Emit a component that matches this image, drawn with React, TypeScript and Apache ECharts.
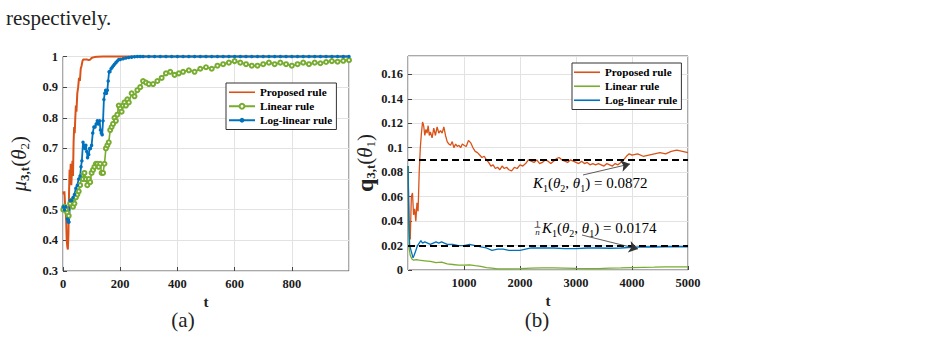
import React, { useEffect, useRef } from "react";
import * as echarts from "echarts";

// ---------- (a) mu_{3,t}(theta_2) ----------
const tPropA = [1, 3, 5, 7, 9, 11, 13, 15, 17, 19, 21, 23, 25, 27, 29, 31, 33, 35, 37, 39, 41, 43, 45, 47, 50, 53, 56, 59, 62, 65, 68, 71, 75, 80, 85, 90, 95, 100, 105, 110, 120, 140, 170, 200, 250, 300, 400, 500, 600, 700, 800, 900, 1000];
const muProp = [0.56, 0.55, 0.56, 0.52, 0.5, 0.47, 0.4, 0.38, 0.37, 0.42, 0.55, 0.63, 0.6, 0.65, 0.58, 0.62, 0.66, 0.61, 0.72, 0.77, 0.75, 0.8, 0.84, 0.82, 0.88, 0.9, 0.93, 0.92, 0.96, 0.97, 0.985, 0.99, 0.99, 0.99, 0.99, 0.988, 0.99, 0.995, 0.997, 0.998, 0.999, 1, 1, 1, 1, 1, 1, 1, 1, 1, 1, 1, 1];

const tLinA = [1, 5, 10, 15, 20, 25, 30, 35, 40, 45, 50, 55, 60, 65, 70, 75, 80, 85, 90, 95, 100, 105, 110, 115, 120, 125, 130, 135, 140, 145, 150, 155, 160, 165, 170, 175, 180, 185, 190, 195, 200, 205, 210, 215, 220, 225, 230, 240, 250, 260, 270, 280, 290, 300, 315, 330, 345, 360, 375, 390, 405, 420, 440, 460, 480, 500, 520, 540, 560, 580, 600, 620, 640, 660, 680, 700, 720, 740, 760, 780, 800, 820, 840, 860, 880, 900, 920, 940, 960, 980, 1000];
const muLin = [0.5, 0.51, 0.5, 0.49, 0.48, 0.52, 0.53, 0.51, 0.52, 0.54, 0.55, 0.56, 0.58, 0.61, 0.6, 0.62, 0.6, 0.58, 0.6, 0.59, 0.62, 0.63, 0.64, 0.65, 0.65, 0.64, 0.65, 0.62, 0.62, 0.65, 0.7, 0.71, 0.72, 0.76, 0.77, 0.78, 0.8, 0.79, 0.81, 0.84, 0.83, 0.82, 0.84, 0.85, 0.84, 0.86, 0.85, 0.88, 0.87, 0.89, 0.9, 0.92, 0.915, 0.91, 0.91, 0.92, 0.93, 0.945, 0.95, 0.94, 0.945, 0.95, 0.955, 0.95, 0.96, 0.965, 0.96, 0.97, 0.975, 0.98, 0.985, 0.98, 0.975, 0.97, 0.97, 0.975, 0.98, 0.975, 0.98, 0.975, 0.97, 0.975, 0.98, 0.975, 0.98, 0.978, 0.982, 0.985, 0.983, 0.986, 0.988];

const tLogA = [1, 5, 10, 15, 18, 21, 25, 30, 35, 40, 45, 50, 55, 60, 63, 66, 70, 73, 76, 80, 83, 86, 90, 93, 96, 100, 104, 108, 112, 116, 120, 124, 128, 131, 134, 137, 140, 143, 146, 149, 152, 155, 158, 161, 164, 168, 172, 176, 180, 185, 190, 195, 200, 210, 220, 230, 240, 250, 260, 270, 280, 300, 320, 340, 360, 380, 400, 420, 440, 460, 480, 500, 520, 540, 560, 580, 600, 620, 640, 660, 680, 700, 720, 740, 760, 780, 800, 820, 840, 860, 880, 900, 920, 940, 960, 980, 1000];
const muLog = [0.51, 0.5, 0.51, 0.47, 0.46, 0.46, 0.53, 0.53, 0.54, 0.55, 0.57, 0.58, 0.6, 0.61, 0.64, 0.66, 0.72, 0.71, 0.7, 0.71, 0.69, 0.67, 0.68, 0.7, 0.7, 0.71, 0.75, 0.77, 0.77, 0.78, 0.79, 0.78, 0.79, 0.76, 0.75, 0.745, 0.79, 0.86, 0.88, 0.89, 0.88, 0.89, 0.92, 0.95, 0.95, 0.96, 0.965, 0.97, 0.975, 0.98, 0.985, 0.99, 0.99, 0.993, 0.995, 0.997, 0.998, 0.999, 1, 1, 1, 1, 1, 1, 1, 1, 1, 1, 1, 1, 1, 1, 1, 1, 1, 1, 1, 1, 1, 1, 1, 1, 1, 1, 1, 1, 1, 1, 1, 1, 1, 1, 1, 1, 1, 1, 1];

// ---------- (b) q_{3,t}(theta_1) ----------
const tPropB = [1, 20, 40, 60, 80, 100, 120, 140, 160, 180, 200, 220, 240, 260, 280, 300, 320, 340, 360, 380, 400, 430, 460, 490, 520, 550, 580, 610, 640, 670, 700, 730, 760, 790, 820, 850, 880, 910, 940, 970, 1000, 1040, 1080, 1120, 1160, 1200, 1240, 1280, 1320, 1360, 1400, 1440, 1480, 1520, 1560, 1600, 1640, 1680, 1720, 1760, 1800, 1850, 1900, 1950, 2000, 2050, 2100, 2150, 2200, 2250, 2300, 2350, 2400, 2450, 2500, 2550, 2600, 2650, 2700, 2750, 2800, 2850, 2900, 2950, 3000, 3050, 3100, 3150, 3200, 3250, 3300, 3350, 3400, 3450, 3500, 3550, 3600, 3650, 3700, 3750, 3800, 3850, 3900, 3950, 4000, 4100, 4200, 4300, 4400, 4500, 4600, 4700, 4800, 4900, 5000];
const qProp = [0.085, 0.04, 0.025, 0.06, 0.063, 0.045, 0.05, 0.04, 0.055, 0.048, 0.08, 0.1, 0.112, 0.121, 0.118, 0.11, 0.115, 0.112, 0.118, 0.11, 0.113, 0.108, 0.116, 0.11, 0.117, 0.112, 0.114, 0.112, 0.117, 0.11, 0.105, 0.103, 0.102, 0.105, 0.1, 0.103, 0.101, 0.102, 0.1, 0.103, 0.102, 0.101, 0.106, 0.104, 0.1, 0.097, 0.096, 0.094, 0.092, 0.093, 0.09, 0.088, 0.085, 0.086, 0.083, 0.084, 0.082, 0.085, 0.083, 0.084, 0.082, 0.081, 0.084, 0.083, 0.086, 0.085, 0.087, 0.09, 0.089, 0.088, 0.09, 0.087, 0.088, 0.09, 0.089, 0.087, 0.089, 0.091, 0.092, 0.09, 0.089, 0.088, 0.09, 0.089, 0.088, 0.087, 0.089, 0.087, 0.088, 0.086, 0.087, 0.086, 0.087, 0.086, 0.085, 0.087, 0.086, 0.085, 0.087, 0.086, 0.088, 0.09, 0.093, 0.095, 0.094, 0.095, 0.093, 0.094, 0.095, 0.096, 0.095, 0.097, 0.098, 0.097, 0.096];

const tLinB = [1, 10, 20, 40, 70, 100, 150, 200, 300, 400, 500, 600, 700, 800, 900, 1000, 1100, 1200, 1300, 1400, 1500, 1600, 1800, 2000, 2200, 2400, 2600, 2800, 3000, 3200, 3400, 3600, 3800, 4000, 4200, 4400, 4600, 4800, 5000];
const qLin = [0.085, 0.04, 0.018, 0.012, 0.009, 0.008, 0.0085, 0.008, 0.0075, 0.007, 0.006, 0.0065, 0.005, 0.0045, 0.004, 0.004, 0.0042, 0.0035, 0.003, 0.002, 0.0015, 0.001, 0.001, 0.0012, 0.0015, 0.0018, 0.0017, 0.0015, 0.0013, 0.0012, 0.0012, 0.0015, 0.0017, 0.002, 0.0022, 0.0023, 0.0025, 0.0026, 0.0025];

const tLogB = [1, 15, 30, 60, 90, 110, 140, 170, 200, 230, 260, 300, 350, 400, 450, 500, 550, 600, 650, 700, 800, 900, 1000, 1100, 1200, 1300, 1400, 1500, 1600, 1700, 1800, 1900, 2000, 2100, 2200, 2400, 2600, 2800, 3000, 3200, 3400, 3600, 3800, 4000, 4200, 4400, 4600, 4800, 5000];
const qLog = [0.085, 0.04, 0.02, 0.015, 0.01, 0.012, 0.016, 0.02, 0.022, 0.024, 0.022, 0.023, 0.022, 0.021, 0.022, 0.023, 0.022, 0.023, 0.022, 0.021, 0.021, 0.02, 0.02, 0.021, 0.02, 0.019, 0.018, 0.016, 0.017, 0.017, 0.016, 0.016, 0.016, 0.017, 0.018, 0.018, 0.018, 0.0175, 0.0175, 0.018, 0.018, 0.0178, 0.018, 0.0185, 0.019, 0.0188, 0.019, 0.0192, 0.019];

const K1 = 0.0872;
const K1n = 0.0174;
const legendNames = ["Proposed rule", "Linear rule", "Log-linear rule"];

const ORANGE = "#D95319";
const GREEN = "#77AC30";
const BLUE = "#0072BD";
const FONT = "'Liberation Serif', 'Times New Roman', serif";
const LINE_ICON = "path://M0,0L26,0L26,1.6L0,1.6Z";

const pairs = (t: number[], v: number[]) => t.map((x, i) => [x, v[i]]);

const tickLabel = { fontFamily: FONT, fontWeight: "bold" as const, fontSize: 12.5, color: "#1a1a1a" };

export default function App() {
  const ref = useRef<HTMLDivElement>(null);
  useEffect(() => {
    if (!ref.current) return;
    const chart = echarts.init(ref.current, undefined, { renderer: "svg" });
    const axisCommon = {
      type: "value" as const,
      axisLine: { show: false },
      axisTick: { inside: true, length: 4, lineStyle: { color: "#444" } },
      splitLine: { lineStyle: { color: "#e2e2e2", width: 1 } },
    };
    const yTitleRich = {
      r: { fontFamily: FONT, fontSize: 21, lineHeight: 24, color: "#222" },
      i: { fontFamily: FONT, fontSize: 21, fontStyle: "italic", lineHeight: 24, color: "#222" },
      q: { fontFamily: FONT, fontSize: 24, fontWeight: "bold", lineHeight: 24, color: "#222" },
      s: { fontFamily: FONT, fontSize: 13, fontWeight: "bold", lineHeight: 12, verticalAlign: "bottom", color: "#222" },
      s2: { fontFamily: FONT, fontSize: 13, lineHeight: 12, verticalAlign: "bottom", color: "#222" },
    };
    const annRich = {
      r: { fontFamily: FONT, fontSize: 15, lineHeight: 20, color: "#222" },
      i: { fontFamily: FONT, fontSize: 15, fontStyle: "italic", lineHeight: 20, color: "#222" },
      s: { fontFamily: FONT, fontSize: 10, lineHeight: 10, verticalAlign: "bottom", color: "#222" },
    };
    const legendCommon = {
      orient: "vertical" as const,
      itemWidth: 26,
      itemHeight: 6,
      itemGap: 1.5,
      padding: [3, 4, 3, 2],
      borderColor: "#333",
      borderWidth: 1,
      backgroundColor: "#fff",
      textStyle: { fontFamily: FONT, fontWeight: "bold" as const, fontSize: 11.2, lineHeight: 12.5, color: "#000" },
    };
    const xName = { fontFamily: FONT, fontWeight: "bold", fontSize: 15, lineHeight: 15, color: "#222" };
    const option: any = {
      animation: false,
      backgroundColor: "#fff",
      textStyle: { fontFamily: FONT },
      grid: [
        { left: 63, top: 56.5, width: 286, height: 214.5, show: true, borderColor: "#555", borderWidth: 1, backgroundColor: "transparent" },
        { left: 408, top: 56, width: 280, height: 214, show: true, borderColor: "#555", borderWidth: 1, backgroundColor: "transparent" },
      ],
      xAxis: [
        {
          ...axisCommon, gridIndex: 0, min: 0, max: 1000, interval: 200,
          axisLabel: { ...tickLabel, margin: 6, showMaxLabel: false, formatter: (v: number) => String(v) },
          name: "t", nameLocation: "middle", nameGap: 23, nameTextStyle: xName,
        },
        {
          ...axisCommon, gridIndex: 1, min: 0, max: 5000, interval: 1000,
          axisLabel: { ...tickLabel, margin: 6, showMinLabel: false, formatter: (v: number) => String(v) },
          name: "t", nameLocation: "middle", nameGap: 23, nameTextStyle: xName,
        },
      ],
      yAxis: [
        {
          ...axisCommon, gridIndex: 0, min: 0.3, max: 1, interval: 0.1,
          axisLabel: { ...tickLabel, margin: 5, formatter: (v: number) => (Math.abs(v - 1) < 1e-9 ? "1" : v.toFixed(1)) },
          name: "{i|μ}{s|3,t}{r|(}{i|θ}{s2|2}{r|)}", nameLocation: "middle", nameGap: 32, nameRotate: 90,
          nameTextStyle: { rich: yTitleRich },
        },
        {
          ...axisCommon, gridIndex: 1, min: 0, max: 0.175, interval: 0.02,
          axisLabel: { ...tickLabel, margin: 5, showMaxLabel: false, formatter: (v: number) => (v === 0 ? "0" : String(parseFloat(v.toFixed(3)))) },
          name: "{q|q}{s|3,t}{r|(}{i|θ}{s2|1}{r|)}", nameLocation: "middle", nameGap: 30, nameRotate: 90,
          nameTextStyle: { rich: yTitleRich },
        },
      ],
      legend: [
        {
          ...legendCommon, left: 226, top: 83,
          data: [
            { name: legendNames[0], icon: LINE_ICON },
            { name: legendNames[1] },
            { name: legendNames[2] },
          ],
        },
        {
          ...legendCommon, left: 572, top: 63,
          data: legendNames.map((n) => ({ name: n + " (b)", icon: LINE_ICON })),
          formatter: (n: string) => n.replace(" (b)", ""),
        },
      ],
      series: [
        {
          name: "Proposed rule", type: "line", xAxisIndex: 0, yAxisIndex: 0, data: pairs(tPropA, muProp),
          symbol: "none", clip: false, lineStyle: { color: ORANGE, width: 2 }, itemStyle: { color: ORANGE },
        },
        {
          name: "Linear rule", type: "line", xAxisIndex: 0, yAxisIndex: 0, data: pairs(tLinA, muLin),
          symbol: "emptyCircle", symbolSize: 4, clip: false,
          lineStyle: { color: GREEN, width: 1.6 }, itemStyle: { color: GREEN, borderColor: GREEN, borderWidth: 1 },
        },
        {
          name: "Log-linear rule", type: "line", xAxisIndex: 0, yAxisIndex: 0, data: pairs(tLogA, muLog),
          symbol: "circle", symbolSize: 3.5, clip: false,
          lineStyle: { color: BLUE, width: 1.8 }, itemStyle: { color: BLUE },
        },
        {
          name: "Proposed rule (b)", type: "line", xAxisIndex: 1, yAxisIndex: 1, data: pairs(tPropB, qProp),
          symbol: "none", lineStyle: { color: ORANGE, width: 1.3 }, itemStyle: { color: ORANGE },
        },
        {
          name: "Linear rule (b)", type: "line", xAxisIndex: 1, yAxisIndex: 1, data: pairs(tLinB, qLin),
          symbol: "none", lineStyle: { color: GREEN, width: 1.3 }, itemStyle: { color: GREEN },
        },
        {
          name: "Log-linear rule (b)", type: "line", xAxisIndex: 1, yAxisIndex: 1, data: pairs(tLogB, qLog),
          symbol: "none", lineStyle: { color: BLUE, width: 1.3 }, itemStyle: { color: BLUE },
          markLine: {
            silent: true,
            symbol: ["none", "none"],
            label: { show: false },
            data: [
              { yAxis: K1, lineStyle: { color: "#000", width: 2, type: [7, 4] } },
              { yAxis: K1n, lineStyle: { color: "#000", width: 2, type: [7, 4] } },
              [
                { coord: [3125, 0.0777], symbol: "none", lineStyle: { color: "#333", width: 0.8, type: "solid" } },
                { coord: [3964, 0.0867], symbol: "arrow", symbolSize: 9 },
              ],
              [
                { coord: [3107, 0.0286], symbol: "none", lineStyle: { color: "#333", width: 0.8, type: "solid" } },
                { coord: [4107, 0.0172], symbol: "arrow", symbolSize: 9 },
              ],
            ],
          },
        },
      ],
      graphic: [
        { type: "text", left: 6, top: 7, style: { text: "respectively.", fontFamily: FONT, fontSize: 21, fill: "#222" } },
        { type: "text", x: 183, y: 320, style: { text: "(a)", fontFamily: FONT, fontSize: 21, lineHeight: 20, fill: "#222", align: "center", verticalAlign: "middle" } },
        { type: "text", x: 537, y: 320, style: { text: "(b)", fontFamily: FONT, fontSize: 21, lineHeight: 20, fill: "#222", align: "center", verticalAlign: "middle" } },
        {
          type: "text", x: 533, y: 183, z: 10,
          style: { text: "{i|K}{s|1}{r|(}{i|θ}{s|2}{r|, }{i|θ}{s|1}{r|) = 0.0872}", rich: annRich, align: "left", verticalAlign: "middle" },
        },
        { type: "text", x: 537.5, y: 223.5, z: 10, style: { text: "1", fontFamily: FONT, fontSize: 9, fill: "#222", align: "center", verticalAlign: "middle" } },
        { type: "line", z: 10, shape: { x1: 534.5, y1: 227.5, x2: 540.5, y2: 227.5 }, style: { stroke: "#222", lineWidth: 0.6 } },
        { type: "text", x: 537.5, y: 232, z: 10, style: { text: "n", fontFamily: FONT, fontStyle: "italic", fontSize: 9, fill: "#222", align: "center", verticalAlign: "middle" } },
        {
          type: "text", x: 542, y: 228, z: 10,
          style: { text: "{i|K}{s|1}{r|(}{i|θ}{s|2}{r|, }{i|θ}{s|1}{r|) = 0.0174}", rich: annRich, align: "left", verticalAlign: "middle" },
        },
      ],
    };
    chart.setOption(option);
    return () => chart.dispose();
  }, []);
  return (
    <div
      ref={ref}
      style={{ position: "absolute", left: 0, top: 0, width: 944, height: 364, background: "#fff" }}
    />
  );
}
